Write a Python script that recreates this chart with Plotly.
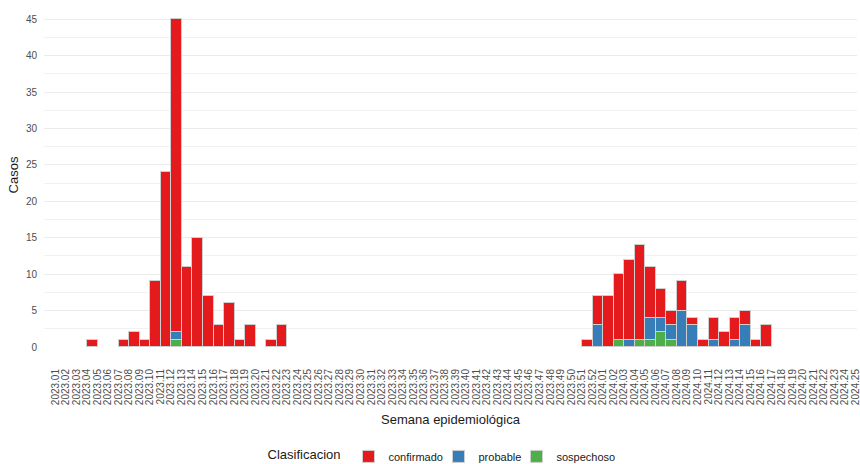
import plotly.graph_objects as go

# Tick labels / categories (epidemiological weeks)
weeks = [f"2023.{w:02d}" for w in range(1, 53)] + [f"2024.{w:02d}" for w in range(1, 26)]

# Series values (only weeks with cases)
confirmado_weeks = ["2023.05", "2023.08", "2023.09", "2023.10", "2023.11", "2023.12", "2023.13",
                    "2023.14", "2023.15", "2023.16", "2023.17", "2023.18", "2023.19", "2023.20",
                    "2023.22", "2023.23", "2023.52", "2024.01", "2024.02", "2024.03", "2024.04",
                    "2024.05", "2024.06", "2024.07", "2024.08", "2024.09", "2024.10", "2024.11",
                    "2024.12", "2024.13", "2024.14", "2024.15", "2024.16", "2024.17"]
confirmado_vals = [1, 1, 2, 1, 9, 24, 43, 11, 15, 7, 3, 6, 1, 3, 1, 3,
                   1, 4, 7, 9, 11, 13, 7, 4, 2, 4, 1, 1, 3, 2, 3, 2, 1, 3]

probable_weeks = ["2023.13", "2024.01", "2024.04", "2024.06", "2024.07", "2024.08",
                  "2024.09", "2024.10", "2024.12", "2024.14", "2024.15"]
probable_vals = [1, 3, 1, 3, 2, 2, 5, 3, 1, 1, 3]

sospechoso_weeks = ["2023.13", "2024.03", "2024.05", "2024.06", "2024.07", "2024.08"]
sospechoso_vals = [1, 1, 1, 1, 2, 1]

colors = {"confirmado": "#E41A1C", "probable": "#377EB8", "sospechoso": "#4DAF4A"}
legend_w = {"confirmado": 45, "probable": 33, "sospechoso": 60}
outline = "#cfcfcf"

fig = go.Figure()
for name, wk, vals in [("sospechoso", sospechoso_weeks, sospechoso_vals),
                       ("probable", probable_weeks, probable_vals),
                       ("confirmado", confirmado_weeks, confirmado_vals)]:
    fig.add_trace(go.Bar(
        x=wk, y=vals, name=name, legendwidth=legend_w[name],
        marker=dict(color=colors[name], line=dict(color=outline, width=1)),
    ))

font_family = "Liberation Sans, Arial, sans-serif"

fig.update_layout(
    width=860, height=464,
    barmode="stack", bargap=0,
    plot_bgcolor="white", paper_bgcolor="white",
    margin=dict(l=44, r=3, t=3, b=117, pad=0, autoexpand=False),
    font=dict(family=font_family, color="#000000"),
    legend=dict(
        orientation="h", x=0.4914, xanchor="center", y=-0.318, yanchor="middle",
        traceorder="reversed",
        title=dict(text="Clasificacion", side="left", font=dict(size=13, color="#1a1a1a")),
        font=dict(size=11, color="#1a1a1a"),
        itemwidth=30,
    ),
    xaxis=dict(
        type="category", categoryorder="array", categoryarray=weeks,
        tickmode="array", tickvals=weeks, ticktext=weeks,
        range=[-0.6, len(weeks) - 0.4],
        tickangle=-90, showgrid=False, zeroline=False, showline=False,
        ticks="", tickfont=dict(size=10, color="#4d4d4d"),
        ticklabelstandoff=19, ticklabelshift=5, automargin=False,
        title=dict(text="Semana epidemiológica", font=dict(size=13, color="#1a1a1a"), standoff=10),
    ),
    yaxis=dict(
        range=[0, 47.25], tick0=0, dtick=5,
        showgrid=True, gridcolor="#EBEBEB", gridwidth=1,
        zeroline=False, showline=False, ticks="",
        tickfont=dict(size=10, color="#4d4d4d"),
        ticklabelstandoff=6, automargin=False,
        minor=dict(dtick=2.5, tick0=0, showgrid=True, gridcolor="#F2F2F2", gridwidth=0.6),
        title=dict(text="Casos", font=dict(size=13, color="#1a1a1a"), standoff=4),
    ),
)

fig.write_html("out.html", config={"displayModeBar": False},
               post_script="document.body.style.margin='0px';")
